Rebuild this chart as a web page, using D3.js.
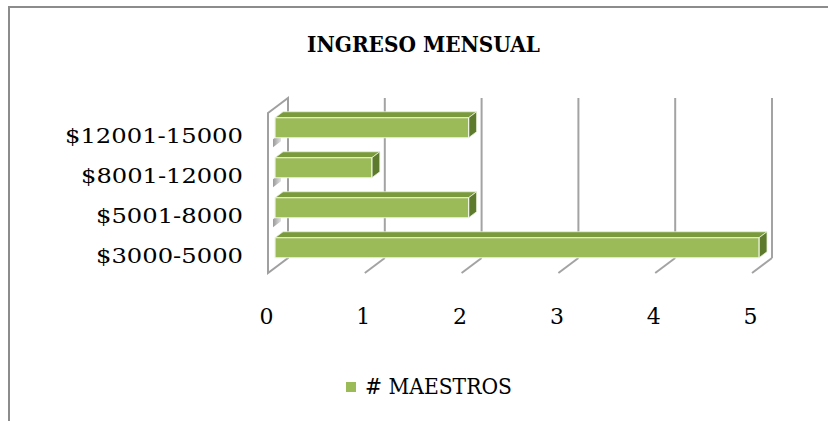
<!DOCTYPE html>
<html>
<head>
<meta charset="utf-8">
<script src="https://cdn.jsdelivr.net/npm/d3@7"></script>
<style>
  html, body { margin: 0; padding: 0; background: #fff; }
  svg { display: block; }
</style>
</head>
<body>
<div id="chart"></div>
<script>
// ---- data ----
const title = "INGRESO MENSUAL";
const categories = ["$3000-5000", "$5001-8000", "$8001-12000", "$12001-15000"];
const maestros = [5, 2, 1, 2];
const seriesName = "# MAESTROS";
const xTicks = [0, 1, 2, 3, 4, 5];

// ---- layout ----
const W = 828, H = 421;
const svg = d3.select("#chart").append("svg").attr("width", W).attr("height", H);
const FONT = "'DejaVu Serif', 'Liberation Serif', serif";

// chart frame (right/bottom edges fall outside the picture)
svg.append("rect").attr("x", 9).attr("y", 7).attr("width", 840).attr("height", 440)
  .attr("fill", "#fff").attr("stroke", "#8c8c8c").attr("stroke-width", 2);

// front-plane scales
const x = d3.scaleLinear().domain([0, 5]).range([268, 752]);
const y = d3.scaleBand().domain(categories.slice().reverse()).range([113, 273])
  .paddingInner(0.5).paddingOuter(0.25);
const DX = 20, DY = -15;         // full depth vector
const F0 = 0.35, F1 = 0.75;      // bar depth slice
const P = (px, py, f) => [px + DX * f, py + DY * f];
const poly = pts => pts.map(p => p.join(",")).join(" ");

const yTop = y.range()[0], yBot = y.range()[1];

// back wall gridlines
const grid = svg.append("g");
xTicks.slice(1).forEach(v => {
  const a = P(x(v), yTop, 1), b = P(x(v), yBot, 1);
  grid.append("line").attr("x1", a[0]).attr("y1", a[1]).attr("x2", b[0]).attr("y2", b[1])
    .attr("stroke", "#a3a3a3").attr("stroke-width", 2);
  const c = P(x(v), yBot, 0);
  grid.append("line").attr("x1", b[0]).attr("y1", b[1]).attr("x2", c[0]).attr("y2", c[1])
    .attr("stroke", "#a3a3a3").attr("stroke-width", 2);
});

// left side wall
svg.append("polygon")
  .attr("points", poly([P(x(0), yTop, 0), P(x(0), yTop, 1), P(x(0), yBot, 1), P(x(0), yBot, 0)]))
  .attr("fill", "none").attr("stroke", "#a0a0a0").attr("stroke-width", 2);

// shading gradient for the wall shadows
const defs = svg.append("defs");
const gr = defs.append("linearGradient").attr("id", "shade").attr("x1", 0).attr("y1", 0).attr("x2", 1).attr("y2", 0);
gr.append("stop").attr("offset", "0%").attr("stop-color", "#9a9a9a");
gr.append("stop").attr("offset", "100%").attr("stop-color", "#e2e2e2");

// bars
const bars = svg.append("g");
categories.forEach((cat, i) => {
  const v = maestros[i];
  const y0 = y(cat), y1 = y(cat) + y.bandwidth();
  if (i > 0) {
    // shadow of the bar on the side wall
    bars.append("polygon")
      .attr("points", poly([P(x(0), y1, F0 - 0.1), P(x(0), y1, F1 - 0.1), P(x(0), y1 + 8, F1 - 0.1), P(x(0), y1 + 8, F0 - 0.1)]))
      .attr("fill", "url(#shade)");
  }
  // top face
  bars.append("polygon")
    .attr("points", poly([P(x(0), y0, F0), P(x(v), y0, F0), P(x(v), y0, F1), P(x(0), y0, F1)]))
    .attr("fill", "#7a9a3c").attr("stroke", "#e9f0dc").attr("stroke-width", 0.8);
  // end face
  bars.append("polygon")
    .attr("points", poly([P(x(v), y0, F0), P(x(v), y0, F1), P(x(v), y1, F1), P(x(v), y1, F0)]))
    .attr("fill", "#5e7a2c").attr("stroke", "#e9f0dc").attr("stroke-width", 0.8);
  // front face
  bars.append("polygon")
    .attr("points", poly([P(x(0), y0, F0), P(x(v), y0, F0), P(x(v), y1, F0), P(x(0), y1, F0)]))
    .attr("fill", "#9bbb59").attr("stroke", "#eef4e2").attr("stroke-width", 1.2);
});

// category labels
const catW = { "$12001-15000": 178, "$8001-12000": 162, "$5001-8000": 147, "$3000-5000": 147 };
categories.forEach(cat => {
  svg.append("text")
    .attr("x", 243).attr("y", y(cat) + y.bandwidth() / 2 + 10)
    .attr("text-anchor", "end")
    .attr("font-family", FONT).attr("font-size", 21).attr("fill", "#000")
    .attr("textLength", catW[cat]).attr("lengthAdjust", "spacingAndGlyphs")
    .text(cat);
});

// value tick labels
xTicks.forEach(v => {
  svg.append("text")
    .attr("x", x(v) - 1.5).attr("y", 324)
    .attr("text-anchor", "middle")
    .attr("font-family", FONT).attr("font-size", 22).attr("fill", "#000")
    .text(v);
});

// title
svg.append("text")
  .attr("x", 423.5).attr("y", 52)
  .attr("text-anchor", "middle")
  .attr("font-family", FONT).attr("font-weight", "bold").attr("font-size", 22).attr("fill", "#000")
  .attr("textLength", 233).attr("lengthAdjust", "spacingAndGlyphs")
  .text(title);

// legend
svg.append("rect").attr("x", 346).attr("y", 382).attr("width", 10).attr("height", 10).attr("fill", "#9bbb59");
svg.append("text")
  .attr("x", 365).attr("y", 394)
  .attr("font-family", FONT).attr("font-size", 22).attr("fill", "#000")
  .attr("textLength", 147).attr("lengthAdjust", "spacingAndGlyphs")
  .text(seriesName);
</script>
</body>
</html>
